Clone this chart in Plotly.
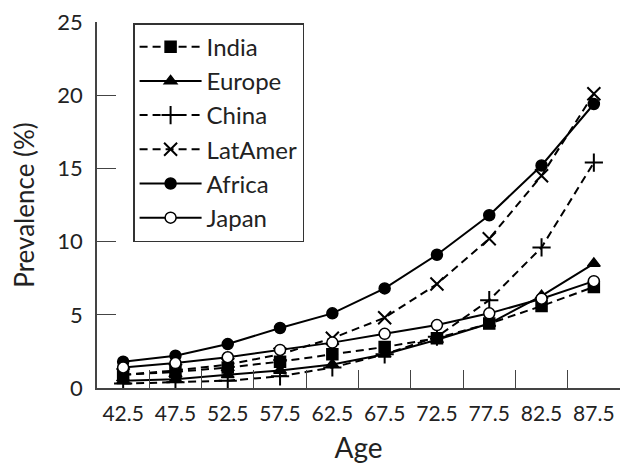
import plotly.graph_objects as go

ages = ["42.5", "47.5", "52.5", "57.5", "62.5", "67.5", "72.5", "77.5", "82.5", "87.5"]
india = [0.9, 1.1, 1.4, 1.8, 2.3, 2.8, 3.4, 4.4, 5.6, 6.9]
europe = [0.5, 0.6, 0.9, 1.2, 1.6, 2.3, 3.3, 4.4, 6.3, 8.5]
china = [0.3, 0.4, 0.5, 0.8, 1.4, 2.3, 3.5, 6.0, 9.6, 15.4]
latamer = [0.9, 1.2, 1.6, 2.3, 3.4, 4.8, 7.1, 10.2, 14.5, 20.1]
africa = [1.8, 2.2, 3.0, 4.1, 5.1, 6.8, 9.1, 11.8, 15.2, 19.4]
japan = [1.4, 1.7, 2.1, 2.6, 3.1, 3.7, 4.3, 5.1, 6.1, 7.3]
yticks = [0, 5, 10, 15, 20, 25]

series = [
    ("India", india, "dash", "square", "black"),
    ("Europe", europe, "solid", "triangle-up", "black"),
    ("China", china, "dash", "cross-thin", "black"),
    ("LatAmer", latamer, "dash", "x-thin", "black"),
    ("Africa", africa, "solid", "circle", "black"),
    ("Japan", japan, "solid", "circle", "white"),
]

fig = go.Figure()
for name, vals, dash, sym, fill in series:
    fig.add_trace(go.Scatter(
        x=ages, y=vals, name=name, mode="lines+markers",
        line=dict(color="black", width=2, dash="8px,5px" if dash == "dash" else "solid"),
        marker=dict(symbol=sym, size=11 if "thin" not in sym else 13, color=fill,
                    line=dict(color="black", width=2 if "thin" in sym else 1.5)),
    ))

font = "Lato, 'Open Sans', sans-serif"
# page body has an 8px default margin, so the figure is sized to fill the rest of the window
fig.update_layout(
    width=624, height=464,
    margin=dict(l=89, r=12, t=14, b=84, autoexpand=False),
    plot_bgcolor="white", paper_bgcolor="white",
    font=dict(family=font, color="#222", size=20),
    legend=dict(x=0.069, y=0.997, xanchor="left", yanchor="top",
                bordercolor="#333", borderwidth=1.5, bgcolor="white",
                font=dict(size=24, family=font, color="#222"),
                itemwidth=62, tracegroupgap=0),
    xaxis=dict(type="category", range=[-0.5, 9.5], showline=True, linecolor="#444", linewidth=1.5,
               ticks="inside", tickson="boundaries", ticklen=18, tickwidth=1.2, tickcolor="#444",
               showgrid=False, zeroline=False, ticklabelstandoff=6, automargin=False,
               tickangle=0, tickfont=dict(size=21), ticklabeloverflow="allow",
               title=dict(text="Age", font=dict(size=28), standoff=14)),
    yaxis=dict(range=[0, 25], tickvals=yticks, showline=True, linecolor="#444", linewidth=1.5,
               ticks="inside", ticklen=19, tickwidth=1.2, tickcolor="#444",
               showgrid=False, zeroline=False, ticklabelstandoff=8, automargin=False,
               tickfont=dict(size=22), ticklabeloverflow="allow",
               title=dict(text="Prevalence (%)", font=dict(size=26), standoff=16)),
)
fig.write_html("out.html")
